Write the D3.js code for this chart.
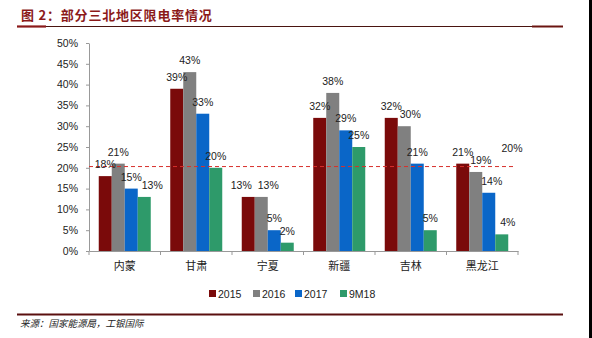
<!DOCTYPE html>
<html><head><meta charset="utf-8">
<script src="https://cdn.jsdelivr.net/npm/d3@7"></script>
<style>body{margin:0;background:#fff;}svg{display:block;}</style>
</head><body>
<svg id="c" width="592" height="338"></svg>
<script>
const categories = ["内蒙","甘肃","宁夏","新疆","吉林","黑龙江"];
const seriesNames = ["2015","2016","2017","9M18"];
const v2015 = [18,39,13,32,32,21];
const v2016 = [21,43,13,38,30,19];
const v2017 = [15,33,5,29,21,14];
const v9M18 = [13,20,2,25,5,4];
const refValue = 20.3;
const refLabel = "20%";
const yTicks = [0,5,10,15,20,25,30,35,40,45,50];
const colors = ["#7a0a0a","#808080","#0a66c8","#2e9a6a"];
const title = "图 2：部分三北地区限电率情况";
const source = "来源：国家能源局，工银国际";

(function(){
const allSeries = [v2015,v2016,v2017,v9M18];
const svg = d3.select("#c");
const font = "'Liberation Sans', Arial, 'Noto Sans CJK SC', sans-serif";
// label nudges (layout only) to avoid overlaps, as in the reference
const nudge = {"内蒙|9M18":8,"宁夏|2015":-7,"宁夏|2016":7,"吉林|2016":6,"黑龙江|2016":5,"黑龙江|2017":3,"黑龙江|9M18":6};

svg.append("rect").attr("x",589).attr("y",0).attr("width",3).attr("height",338).attr("fill","#000");

svg.append("text").attr("x",21).attr("y",20).attr("fill","#8b1a1a")
  .attr("font-family","'Noto Sans CJK SC', sans-serif").attr("font-weight","bold").attr("font-size",13)
  .attr("letter-spacing",0.8).text(title);
svg.append("line").attr("x1",17).attr("x2",563).attr("y1",26.5).attr("y2",26.5).attr("stroke","#4a1410").attr("stroke-width",1.2);
svg.append("line").attr("x1",17).attr("x2",46).attr("y1",26.5).attr("y2",26.5).attr("stroke","#8b1a1a").attr("stroke-width",2.2);
svg.append("line").attr("x1",532).attr("x2",563).attr("y1",26.5).attr("y2",26.5).attr("stroke","#6b1410").attr("stroke-width",2);

const pl=89, pr=518, pt=43, pb=251;
const x0 = d3.scaleBand().domain(categories).range([pl,pr]).paddingInner(0).paddingOuter(0);
const x1 = d3.scaleBand().domain(seriesNames).range([0,x0.bandwidth()]).paddingOuter(0.75).paddingInner(0);
const y = d3.scaleLinear().domain([0,50]).range([pb,pt]);

const yAxis = d3.axisLeft(y).tickValues(yTicks).tickFormat(d=>d+"%").tickSize(3).tickSizeOuter(0);
const gy = svg.append("g").attr("transform",`translate(${pl},0)`).call(yAxis);
gy.select(".domain").attr("stroke","#999");
gy.selectAll(".tick line").attr("stroke","#999");
gy.selectAll(".tick text").attr("font-family",font).attr("font-size",10.5).attr("fill","#222").attr("x",-11);

categories.forEach((c,i)=>{
  seriesNames.forEach((s,j)=>{
    const v = allSeries[j][i];
    svg.append("rect").attr("x",x0(c)+x1(s)).attr("y",y(v)).attr("width",x1.bandwidth()).attr("height",pb-y(v)).attr("fill",colors[j]);
  });
});

const xAxis = d3.axisBottom(x0).tickSize(0).tickSizeOuter(0);
const gx = svg.append("g").attr("transform",`translate(0,${pb})`).call(xAxis);
gx.select(".domain").attr("stroke","#999");
gx.selectAll(".tick text").attr("font-family","'Noto Sans CJK SC', sans-serif").attr("font-size",11).attr("fill","#222").attr("dy","1.45em");
const bounds = categories.map(c=>x0(c)).concat([pr]);
svg.append("g").selectAll("line").data(bounds).join("line")
  .attr("x1",d=>d).attr("x2",d=>d).attr("y1",pb).attr("y2",pb+4).attr("stroke","#999");

svg.append("line").attr("x1",pl).attr("x2",515).attr("y1",y(refValue)).attr("y2",y(refValue))
  .attr("stroke","#d8302c").attr("stroke-width",1).attr("stroke-dasharray","4,3");
svg.append("text").attr("x",512).attr("y",y(refValue)-15).attr("text-anchor","middle")
  .attr("font-family",font).attr("font-size",10.5).attr("fill","#222").text(refLabel);

categories.forEach((c,i)=>{
  seriesNames.forEach((s,j)=>{
    const v = allSeries[j][i];
    const dx = nudge[c+"|"+s] || 0;
    svg.append("text").attr("x",x0(c)+x1(s)+x1.bandwidth()/2+dx).attr("y",y(v)-8)
      .attr("text-anchor","middle").attr("font-family",font).attr("font-size",10.5).attr("fill","#222").text(v+"%");
  });
});

const legX = [209,253,295,340];
seriesNames.forEach((s,j)=>{
  svg.append("rect").attr("x",legX[j]).attr("y",290).attr("width",7).attr("height",7).attr("fill",colors[j]);
  svg.append("text").attr("x",legX[j]+9).attr("y",297.5).attr("font-family",font).attr("font-size",10.5).attr("fill","#222").text(s);
});

svg.append("line").attr("x1",17).attr("x2",563).attr("y1",314.5).attr("y2",314.5).attr("stroke","#5a0f0f").attr("stroke-width",2);
svg.append("text").attr("x",20).attr("y",327).attr("font-family","'Noto Sans CJK SC', sans-serif").attr("font-size",9.5)
  .attr("font-style","italic").attr("fill","#222").text(source);
})();
</script>
</body></html>
